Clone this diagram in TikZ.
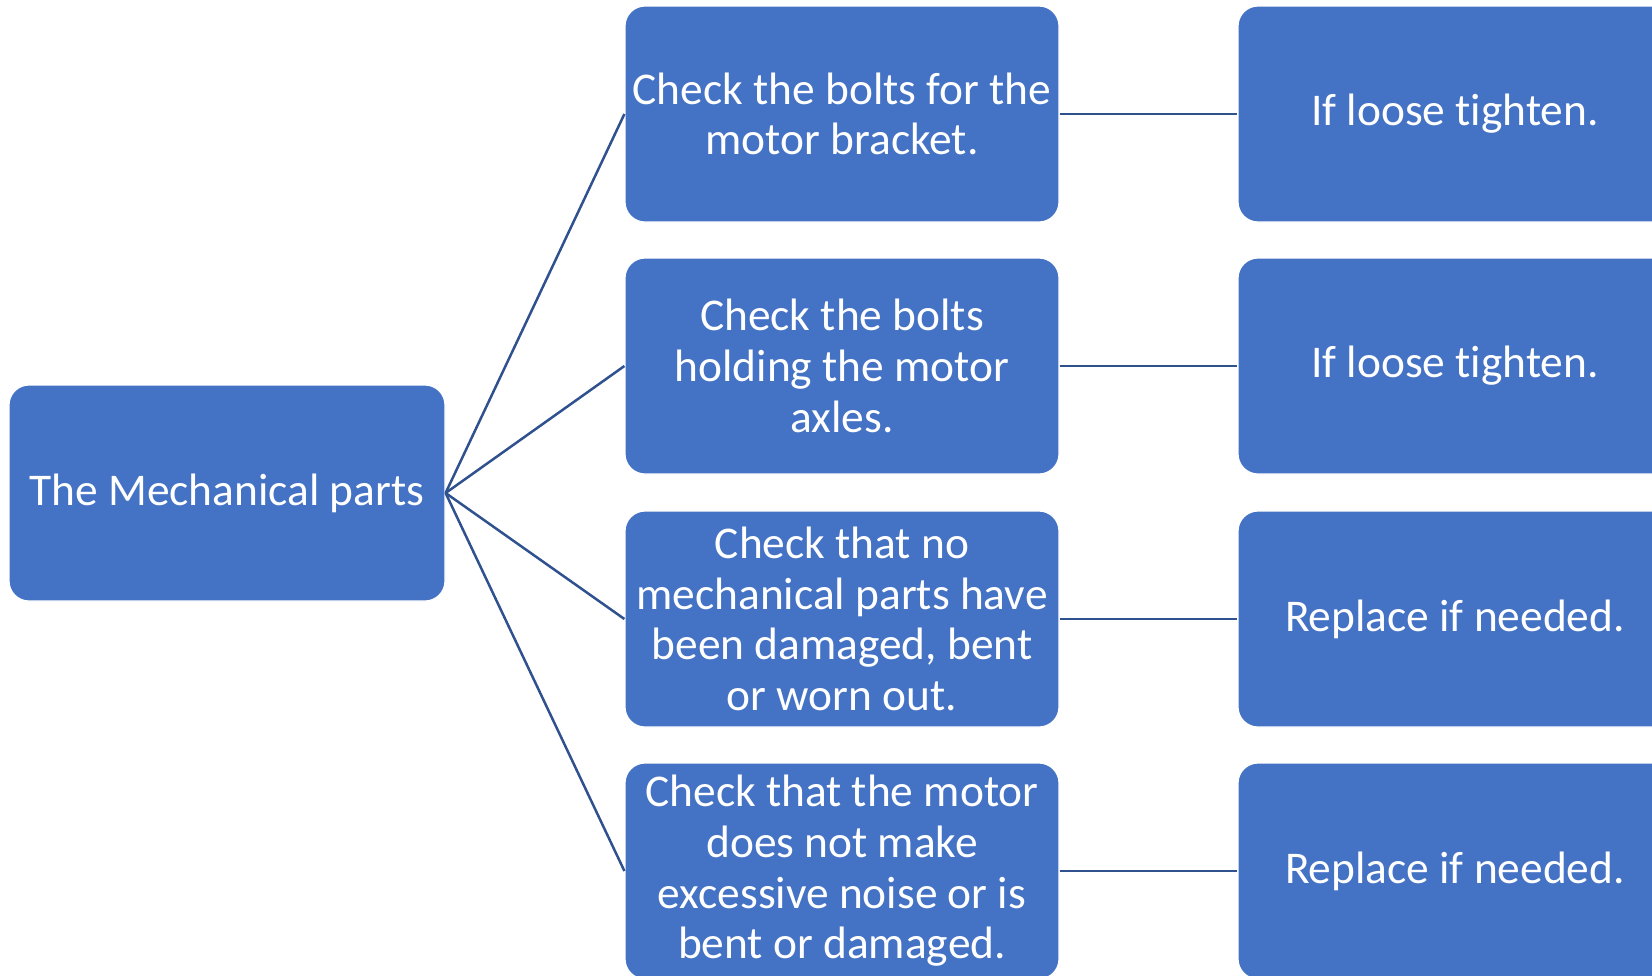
\documentclass[tikz,border=0pt]{standalone}
\usepackage{fontspec}
\setmainfont{Carlito}[Ligatures=NoCommon]
\definecolor{boxblue}{HTML}{4472C4}
\definecolor{linkblue}{HTML}{2F528F}
\tikzset{
  card/.style={draw=white, line width=0.6pt, fill=boxblue, rounded corners=10pt,
    minimum width=217pt, minimum height=108pt, align=center,
    inner sep=1.5pt, text=white, font=\fontsize{22.7}{25.3}\selectfont},
  link/.style={draw=linkblue, line width=1.25pt}
}
\begin{document}
\begin{tikzpicture}[x=0.5pt,y=-0.5pt]
\useasboundingbox (0,0) rectangle (1652,975);
\clip (0,0) rectangle (1652,975);
\node[card, minimum width=218pt] (root) at (227,493) {The Mechanical parts};
\node[card] (m1) at (842,114) {Check the bolts for the\\motor bracket.};
\node[card] (m2) at (842,366) {Check the bolts\\holding the motor\\axles.};
\node[card] (m3) at (842,619) {Check that no\\mechanical parts have\\been damaged, bent\\or worn out.};
\node[card] (m4) at (842,871) {Check that the motor\\does not make\\excessive noise or is\\bent or damaged.};
\node[card] (r1) at (1455,114) {If loose tighten.};
\node[card] (r2) at (1455,366) {If loose tighten.};
\node[card] (r3) at (1455,619) {Replace if needed.};
\node[card] (r4) at (1455,871) {Replace if needed.};
\foreach \i in {1,2,3,4}{
  \draw[link] (root.east) -- (m\i.west);
  \draw[link] (m\i.east) -- (r\i.west);
}
\end{tikzpicture}
\end{document}
